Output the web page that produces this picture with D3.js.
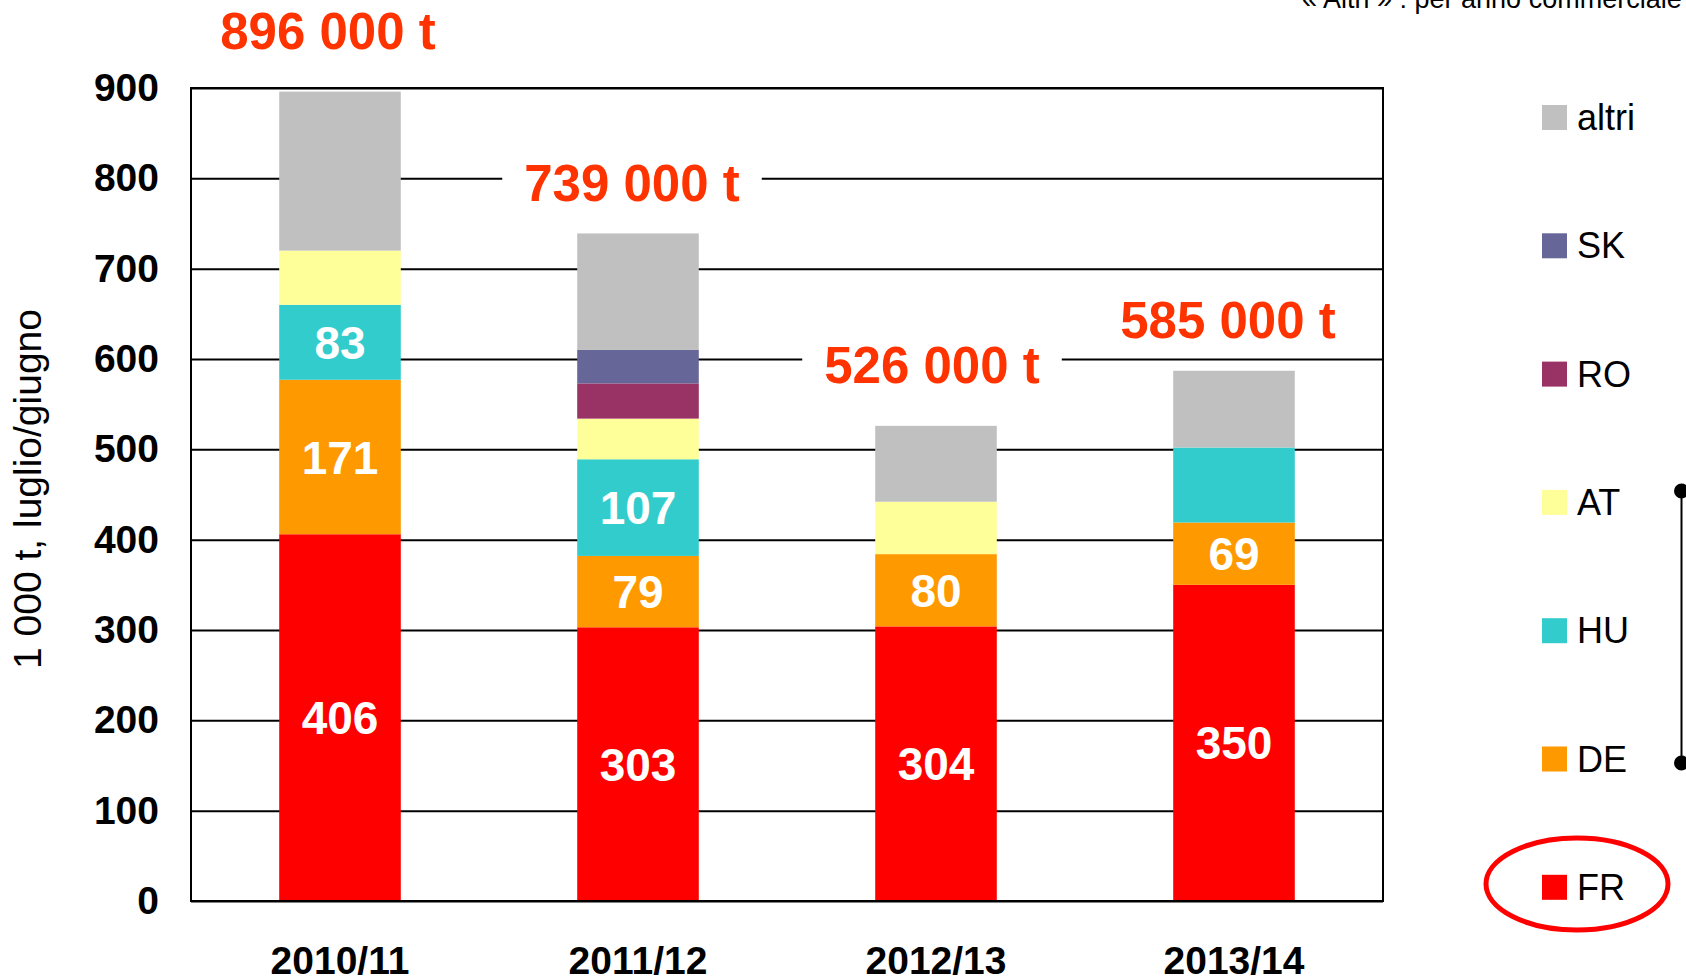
<html>
<head>
<meta charset="utf-8">
<script src="https://d3js.org/d3.v7.min.js"></script>
<style>
  body { margin: 0; background: #fff; }
  text { font-family: "Liberation Sans", Arial, sans-serif; }
</style>
</head>
<body>
<script>
// data (1000 t, July/June)
var years = ["2010/11", "2011/12", "2012/13", "2013/14"];
var FR = [406, 303, 304, 350];
var DE = [171, 79, 80, 69];
var HU = [83, 107, 0, 83];
var AT = [60, 45, 58, 0];
var RO = [0, 39, 0, 0];
var SK = [0, 37, 0, 0];
var altri = [176, 129, 84, 85];
var countries = ["FR", "DE", "HU", "AT", "RO", "SK", "altri"];
var totalLabels = ["896 000 t", "739 000 t", "526 000 t", "585 000 t"];
var yTicks = [0, 100, 200, 300, 400, 500, 600, 700, 800, 900];
// which segments carry a value label
var labelled = [["FR", "DE", "HU"], ["FR", "DE", "HU"], ["FR", "DE"], ["FR", "DE"]];

var colors = {
    FR: "#ff0000", DE: "#ff9900", HU: "#33cccc", AT: "#ffff99",
    RO: "#993366", SK: "#666699", altri: "#c0c0c0"
};

var chartWidth = 1686, chartHeight = 977;
// note: "top" is taken by window.top, so plot edges get their own names
var plotLeft = 191, plotRight = 1383, plotTop = 88, plotBottom = 901;

// where the red totals sit (in axis units), nudge left, and whether they cut the gridline
var totalY = [943, 775, 573, 623];
var totalShift = [-12, -6, -4, -6];
var totalCut = [false, true, true, false];

var series = { FR: FR, DE: DE, HU: HU, AT: AT, RO: RO, SK: SK, altri: altri };
var rows = years.map(function (yr, i) {
    var r = { year: yr };
    countries.forEach(function (c) { r[c] = series[c][i]; });
    return r;
});

var svg = d3.select("body").append("svg")
    .attr("width", chartWidth)
    .attr("height", chartHeight);

var x = d3.scaleBand().domain(years).range([plotLeft, plotRight])
    .paddingInner(0.592).paddingOuter(0.296);
var y = d3.scaleLinear().domain([0, 900]).range([plotBottom, plotTop]);

// gridlines + tick labels
var yAxis = svg.append("g")
    .attr("transform", "translate(" + plotLeft + ",0)")
    .call(d3.axisLeft(y).tickValues(yTicks).tickSize(-(plotRight - plotLeft)).tickPadding(32));
yAxis.select(".domain").remove();
yAxis.selectAll("line").attr("stroke", "#000").attr("stroke-width", 2);
yAxis.selectAll("text")
    .attr("fill", "#000")
    .style("font-size", "39px")
    .style("font-weight", "bold");

// stacked bars
var stacked = d3.stack().keys(countries)(rows);
svg.append("g").selectAll("g")
    .data(stacked)
    .join("g")
    .attr("fill", function (d) { return colors[d.key]; })
    .selectAll("rect")
    .data(function (d) { return d; })
    .join("rect")
    .attr("x", function (d) { return x(d.data.year); })
    .attr("y", function (d) { return y(d[1]); })
    .attr("width", x.bandwidth())
    .attr("height", function (d) { return y(d[0]) - y(d[1]); });

// plot frame
svg.append("rect")
    .attr("x", plotLeft).attr("y", plotTop)
    .attr("width", plotRight - plotLeft).attr("height", plotBottom - plotTop)
    .attr("fill", "none").attr("stroke", "#000").attr("stroke-width", 2);

// white values inside the segments
stacked.forEach(function (s) {
    s.forEach(function (d, i) {
        if (labelled[i].indexOf(s.key) < 0) return;
        svg.append("text")
            .attr("x", x(d.data.year) + x.bandwidth() / 2)
            .attr("y", y((d[0] + d[1]) / 2))
            .attr("text-anchor", "middle")
            .attr("dy", "0.36em")
            .attr("fill", "#fff")
            .style("font-size", "46px")
            .style("font-weight", "bold")
            .text(d[1] - d[0]);
    });
});

// x axis labels
var xAxis = svg.append("g")
    .attr("transform", "translate(0," + plotBottom + ")")
    .call(d3.axisBottom(x).tickSize(0).tickPadding(45));
xAxis.select(".domain").remove();
xAxis.selectAll("text")
    .attr("fill", "#000")
    .style("font-size", "39px")
    .style("font-weight", "bold");

// red totals
totalLabels.forEach(function (t, i) {
    var cx = x(years[i]) + x.bandwidth() / 2 + totalShift[i];
    var label = svg.append("text")
        .attr("x", cx)
        .attr("y", y(totalY[i]))
        .attr("text-anchor", "middle")
        .attr("fill", "#ff3300")
        .style("font-size", "51px")
        .style("font-weight", "bold")
        .text(t);
    if (totalCut[i]) {
        var b = label.node().getBBox();
        svg.insert("rect", function () { return label.node(); })
            .attr("x", b.x - 22).attr("y", b.y)
            .attr("width", b.width + 44).attr("height", b.height)
            .attr("fill", "#fff");
    }
});

// y title
svg.append("text")
    .attr("transform", "translate(41,489) rotate(-90)")
    .attr("text-anchor", "middle")
    .attr("fill", "#000")
    .style("font-size", "39px")
    .text("1 000 t, luglio/giugno");

// note at the top right, partly cut off
svg.append("text")
    .attr("x", 1302).attr("y", 8)
    .attr("fill", "#000")
    .style("font-size", "27px")
    .text("« Altri » : per anno commerciale");

// legend, top to bottom
var legendKeys = countries.slice().reverse();
var legend = svg.append("g").selectAll("g")
    .data(legendKeys)
    .join("g")
    .attr("transform", function (d, i) { return "translate(1542," + (130 + i * 128.3) + ")"; });
legend.append("rect")
    .attr("y", -25).attr("width", 25).attr("height", 25)
    .attr("fill", function (d) { return colors[d]; });
legend.append("text")
    .attr("x", 35)
    .attr("fill", "#000")
    .style("font-size", "36px")
    .text(function (d) { return d; });

// red ring round FR
svg.append("ellipse")
    .attr("cx", 1577).attr("cy", 884)
    .attr("rx", 91).attr("ry", 46)
    .attr("fill", "none").attr("stroke", "#ff0000").attr("stroke-width", 5);

// bracket at the right edge
svg.append("line")
    .attr("x1", 1681.5).attr("x2", 1681.5)
    .attr("y1", 491).attr("y2", 763)
    .attr("stroke", "#000").attr("stroke-width", 2);
[491, 763].forEach(function (cy) {
    svg.append("circle").attr("cx", 1681.5).attr("cy", cy).attr("r", 7.5).attr("fill", "#000");
});
</script>
</body>
</html>
